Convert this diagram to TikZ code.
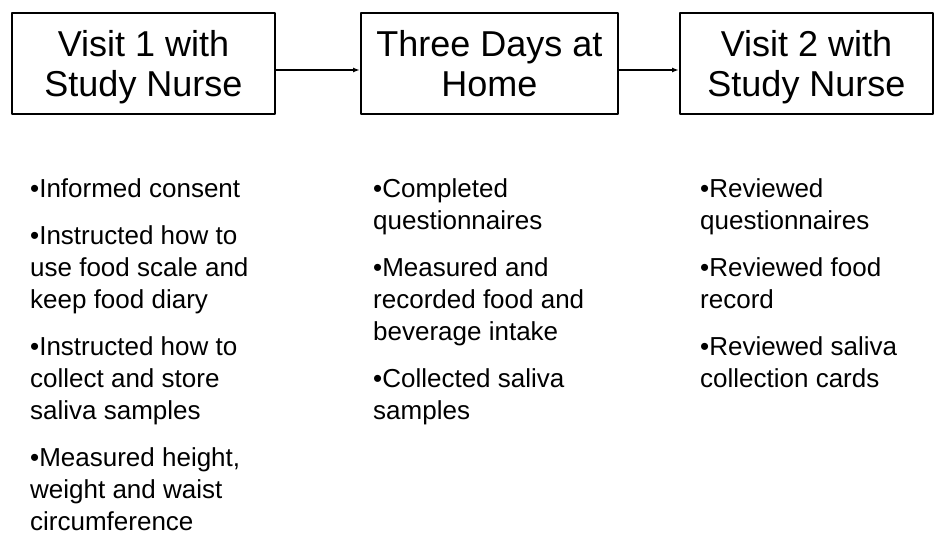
\documentclass[tikz,border=0pt]{standalone}
\usepackage{fontspec}
\setmainfont{Liberation Sans}
\usetikzlibrary{arrows.meta}
\newcommand{\toprule}{\rule{0pt}{34pt}}
\newcommand{\botrule}{\rule[-8pt]{0pt}{8pt}}
\begin{document}
\begin{tikzpicture}[x=1pt, y=-1pt, line join=round, >={Latex[length=7pt,width=5pt]},
        stage/.style={draw, line width=2pt, inner sep=0pt, minimum height=101pt, align=center,
            font=\fontsize{36}{40}\selectfont},
        note/.style={anchor=north west, inner sep=0pt, align=left, font=\fontsize{26}{32}\selectfont}]
            \useasboundingbox (0,0) rectangle (935,533);
            % the three stages
            \node[stage, minimum width=263pt] (visit1) at (143.5,63.5) {\toprule Visit 1 with\\Study Nurse\botrule};
            \node[stage, minimum width=257pt] (home) at (489.5,63.5) {\toprule Three Days at\\Home\botrule};
            \node[stage, minimum width=253pt] (visit2) at (806.5,63.5) {\toprule Visit 2 with\\Study Nurse\botrule};
            \draw[->, line width=1.5pt] ([yshift=-6.5pt]visit1.east) -- ([yshift=-6.5pt]home.west);
            \draw[->, line width=1.5pt] ([yshift=-6.5pt]home.east) -- ([yshift=-6.5pt]visit2.west);

            % what is done at each stage
            \node[note] (tasks1) at (30,178) {•Informed consent\\[15pt]
                •Instructed how to\\use food scale and\\keep food diary\\[15pt]
                •Instructed how to\\collect and store\\saliva samples\\[15pt]
                •Measured height,\\weight and waist\\circumference};
            \node[note] (tasks2) at (373,178) {•Completed\\questionnaires\\[15pt]
                •Measured and\\recorded food and\\beverage intake\\[15pt]
                •Collected saliva\\samples};
            \node[note] (tasks3) at (700,178) {•Reviewed\\questionnaires\\[15pt]
                •Reviewed food\\record\\[15pt]
                •Reviewed saliva\\collection cards};
        \end{tikzpicture}
\end{document}
